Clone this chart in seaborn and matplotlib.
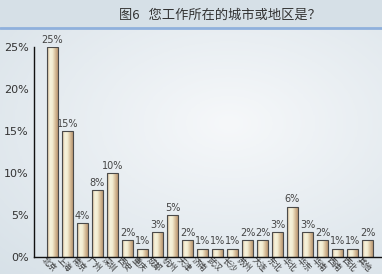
import numpy as np
import pandas as pd
import matplotlib
matplotlib.use("Agg")
import matplotlib.pyplot as plt
import seaborn as sns
from matplotlib.colors import LinearSegmentedColormap

cities = ["北京", "上海", "南京", "广州", "深圳", "西安", "重庆", "成都", "杭州", "天津",
          "济南", "武汉", "长沙", "苏州", "大连", "东北", "华北", "华东",
          "华南", "西南", "西北", "其他"]
shares = [25, 15, 4, 8, 10, 2, 1, 3, 5, 2, 1, 1, 1, 2, 2, 3, 6, 3, 2, 1, 1, 2]
yticks = [0, 5, 10, 15, 20, 25]
title = "图6   您工作所在的城市或地区是？"

df = pd.DataFrame({"city": cities, "share": shares})

sns.set_theme(style="white")
plt.rcParams["font.family"] = ["Noto Sans CJK SC", "DejaVu Sans"]

fig = plt.figure(figsize=(3.82, 2.74), dpi=100)

# soft bluish backdrop, lighter toward the middle right
bg = fig.add_axes([0, 0, 1, 1], zorder=-10)
yy, xx = np.mgrid[0:1:200j, 0:1:300j]
r = np.sqrt(((xx - 0.6) / 0.9) ** 2 + ((yy - 0.45) / 0.8) ** 2)
bg_cmap = LinearSegmentedColormap.from_list("bg", ["#f6f8fa", "#d6e0e7"])
bg.imshow(np.clip(r, 0, 1), cmap=bg_cmap, aspect="auto", extent=[0, 1, 0, 1],
          vmin=0, vmax=1)
bg.axhspan(1 - 27 / 274, 1, color="#d6e0e7")
bg.axhline(1 - 27.5 / 274, color="#8fb0dc", lw=2)
bg.set_xlim(0, 1)
bg.set_ylim(0, 1)
bg.axis("off")

fig.text(0.575, 1 - 15 / 274, title, ha="center", va="center", fontsize=9.5,
         color="#333333")

ax = fig.add_axes([34 / 382, 1 - 257 / 274, 347 / 382, 210 / 274])
ax.patch.set_alpha(0)
sns.barplot(data=df, x="city", y="share", ax=ax, width=0.73, color="#e8dcb5",
            edgecolor="#4a4a4a", linewidth=0.8)

# horizontal cream-to-tan shading inside each bar
bar_cmap = LinearSegmentedColormap.from_list(
    "bar", ["#c9a882", "#f6f3dc", "#f3eed3", "#d9c09c", "#b89572"])
grad = np.linspace(0, 1, 64).reshape(1, -1)
for p in ax.patches:
    x0, w, h = p.get_x(), p.get_width(), p.get_height()
    im = ax.imshow(grad, cmap=bar_cmap, aspect="auto", extent=[x0, x0 + w, 0, h],
                   zorder=p.get_zorder() - 0.1, interpolation="bilinear")
    im.set_clip_path(p)
    p.set_facecolor("none")

for i, v in enumerate(shares):
    ax.text(i, v + 0.25, f"{v}%", ha="center", va="bottom", fontsize=7,
            color="#444444", family="DejaVu Sans")

ax.set_xlim(-1.23, 21.9)
ax.set_ylim(0, 25)
ax.set_yticks(yticks)
ax.set_yticklabels([f"{t}%" for t in yticks], fontsize=8, color="#333333",
                   family="DejaVu Sans")
ax.set_xticks(range(len(cities)))
ax.set_xticklabels(cities, rotation=-45, ha="center", va="top",
                   rotation_mode="anchor", fontsize=6, color="#333333")
ax.tick_params(axis="x", length=0, pad=3)
ax.tick_params(axis="y", length=0, pad=4)
ax.set_xlabel("")
ax.set_ylabel("")
for s in ["top", "right"]:
    ax.spines[s].set_visible(False)
for s in ["left", "bottom"]:
    ax.spines[s].set_color("#111111")
    ax.spines[s].set_linewidth(1.0)

fig.savefig("out.png", dpi=100)
